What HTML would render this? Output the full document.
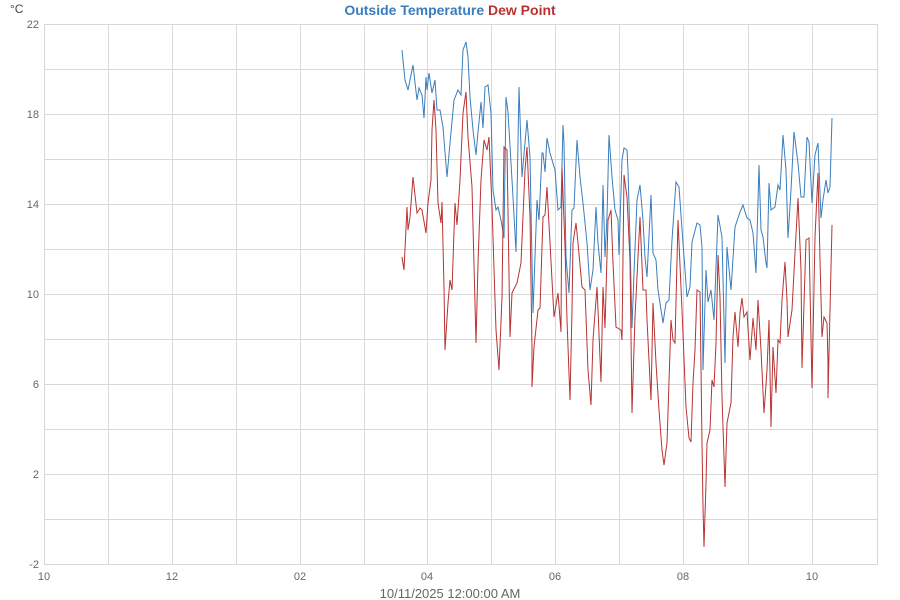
<!DOCTYPE html>
<html><head><meta charset="utf-8"><style>
body{margin:0;background:#fff;}
svg{display:block;font-family:"Liberation Sans",sans-serif;}
</style></head><body>
<svg width="900" height="600" viewBox="0 0 900 600">
<text x="450" y="15" text-anchor="middle" font-size="14" font-weight="bold"><tspan fill="#3a7dbc">Outside Temperature</tspan> <tspan fill="#b83232">Dew Point</tspan></text>
<text x="10" y="13" font-size="12" fill="#444">°C</text>
<g stroke="#d8d8d8" stroke-width="1">
<line x1="44" y1="24.5" x2="878" y2="24.5"/><line x1="44" y1="69.5" x2="878" y2="69.5"/><line x1="44" y1="114.5" x2="878" y2="114.5"/><line x1="44" y1="159.5" x2="878" y2="159.5"/><line x1="44" y1="204.5" x2="878" y2="204.5"/><line x1="44" y1="249.5" x2="878" y2="249.5"/><line x1="44" y1="294.5" x2="878" y2="294.5"/><line x1="44" y1="339.5" x2="878" y2="339.5"/><line x1="44" y1="384.5" x2="878" y2="384.5"/><line x1="44" y1="429.5" x2="878" y2="429.5"/><line x1="44" y1="474.5" x2="878" y2="474.5"/><line x1="44" y1="519.5" x2="878" y2="519.5"/><line x1="44" y1="564.5" x2="878" y2="564.5"/>
<line x1="44.5" y1="24" x2="44.5" y2="564"/><line x1="108.5" y1="24" x2="108.5" y2="564"/><line x1="172.5" y1="24" x2="172.5" y2="564"/><line x1="236.5" y1="24" x2="236.5" y2="564"/><line x1="300.5" y1="24" x2="300.5" y2="564"/><line x1="364.5" y1="24" x2="364.5" y2="564"/><line x1="427.5" y1="24" x2="427.5" y2="564"/><line x1="491.5" y1="24" x2="491.5" y2="564"/><line x1="555.5" y1="24" x2="555.5" y2="564"/><line x1="619.5" y1="24" x2="619.5" y2="564"/><line x1="683.5" y1="24" x2="683.5" y2="564"/><line x1="748.5" y1="24" x2="748.5" y2="564"/><line x1="812.5" y1="24" x2="812.5" y2="564"/><line x1="877.5" y1="24" x2="877.5" y2="564"/>
</g>
<g font-size="11" fill="#666" text-anchor="end">
<text x="39" y="28">22</text><text x="39" y="118">18</text><text x="39" y="208">14</text><text x="39" y="298">10</text><text x="39" y="388">6</text><text x="39" y="478">2</text><text x="39" y="568">-2</text>
</g>
<g font-size="11" fill="#666" text-anchor="middle">
<text x="44" y="580">10</text><text x="172" y="580">12</text><text x="300" y="580">02</text><text x="427" y="580">04</text><text x="555" y="580">06</text><text x="683" y="580">08</text><text x="812" y="580">10</text>
</g>
<text x="450" y="598" font-size="13" fill="#666" text-anchor="middle">10/11/2025 12:00:00 AM</text>
<polyline fill="none" stroke="#3a7dbc" stroke-width="1" points="402,50 405,80 408,90 413,65 417,100 419,88 422,95 424,118 426,77 427,90 429,73 432,93 435,80 437,110 440,110 443,127 447,177 450,143 454,100 458,90 461,95 463,50 466,42 468,57 470,97 473,130 476,155 478,132 481,102 483,128 485,87 488,85 491,113 493,190 496,210 498,207 501,220 504,238 506,97 508,112 513,197 516,252 519,87 522,177 527,120 530,157 533,313 537,200 539,220 542,153 543,153 545,172 547,138 550,153 555,170 558,210 561,207 563,125 564,143 566,257 569,293 572,210 574,208 577,140 580,177 583,203 587,243 590,290 593,270 596,207 598,243 601,273 603,185 605,257 607,217 609,135 612,177 615,210 618,220 619,255 622,160 624,148 627,150 628,170 630,240 632,328 634,273 637,200 640,185 643,220 645,257 647,277 651,195 653,253 656,260 658,290 663,323 666,303 669,300 672,240 676,182 679,187 683,243 687,297 690,287 692,242 697,223 700,225 702,247 703,370 706,270 708,302 711,290 714,320 718,215 722,237 725,363 727,247 731,290 735,227 740,212 743,205 747,218 750,220 753,233 756,273 759,165 761,230 763,237 766,263 767,268 769,183 771,210 775,207 778,185 780,190 783,135 786,170 788,238 791,190 794,132 798,163 801,197 804,197 807,137 809,142 812,203 815,155 818,143 821,218 823,200 826,180 828,193 830,187 832,118"/>
<polyline fill="none" stroke="#b83232" stroke-width="1" points="402,257 404,270 407,207 408,230 410,217 413,177 417,213 420,208 422,210 426,233 428,203 431,180 432,130 434,100 436,130 438,203 441,223 442,202 444,287 445,350 448,303 450,280 452,290 455,203 457,225 460,180 463,113 466,92 468,137 472,187 476,343 478,263 481,180 484,140 487,150 489,137 492,207 496,330 499,370 502,297 504,147 507,150 510,337 512,293 517,283 521,263 525,170 527,147 530,217 532,350 532,387 534,347 538,310 540,308 543,217 545,215 547,187 550,243 554,317 558,293 561,332 562,167 565,247 567,320 570,400 572,310 573,243 576,223 578,243 582,287 585,290 588,370 591,405 593,340 597,287 598,310 601,382 603,287 605,328 608,220 611,210 613,263 616,327 621,330 622,340 624,175 627,197 630,260 632,413 635,317 640,217 643,290 646,290 647,320 651,400 653,303 656,363 659,410 662,450 664,465 667,443 671,320 673,340 675,343 678,220 682,310 686,407 689,438 691,442 693,383 695,350 697,290 700,292 702,443 703,507 704,547 706,483 707,443 710,430 712,380 714,387 716,343 718,255 720,297 722,397 725,487 727,423 731,403 733,337 735,312 738,347 740,313 742,298 744,317 747,312 750,360 753,318 756,350 758,300 761,350 764,413 767,370 769,320 771,427 773,347 776,393 778,340 780,343 782,300 785,262 787,300 788,337 792,310 795,253 798,198 801,270 802,368 806,240 809,238 812,388 815,237 818,173 820,260 822,337 824,317 827,323 828,363 828,398 830,310 832,225"/>
</svg>
</body></html>
